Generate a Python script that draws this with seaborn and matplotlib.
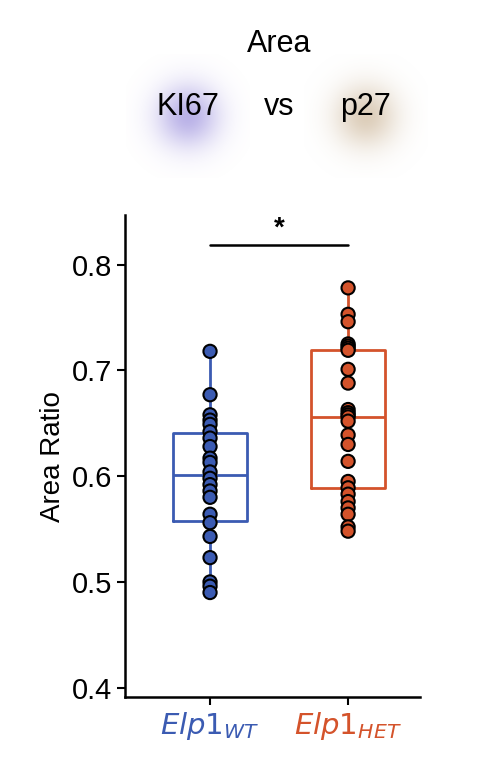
import numpy as np
import pandas as pd
import matplotlib
matplotlib.use("Agg")
import matplotlib.pyplot as plt
import seaborn as sns

groups = ["WT", "HET"]
wt_vals = [0.718, 0.677, 0.658, 0.653, 0.649, 0.642, 0.636, 0.628, 0.617, 0.613, 0.604,
           0.598, 0.592, 0.586, 0.580, 0.564, 0.556, 0.543, 0.523, 0.500, 0.496, 0.490]
het_vals = [0.778, 0.753, 0.746, 0.725, 0.723, 0.721, 0.719, 0.701, 0.688, 0.663, 0.660,
            0.658, 0.656, 0.652, 0.639, 0.630, 0.614, 0.595, 0.589, 0.583, 0.576,
            0.570, 0.564, 0.552, 0.548]
colors = ["#3b5bb2", "#d4532b"]
tick_labels = [r"$\mathit{Elp1}_{\mathit{WT}}$", r"$\mathit{Elp1}_{\mathit{HET}}$"]

df = pd.DataFrame({
    "group": ["WT"] * len(wt_vals) + ["HET"] * len(het_vals),
    "ratio": wt_vals + het_vals,
})

sns.set_style("ticks")
plt.rcParams["font.family"] = ["Liberation Sans", "DejaVu Sans"]
plt.rcParams["text.color"] = "black"
plt.rcParams["ytick.color"] = "black"

fig = plt.figure(figsize=(4.94, 7.73), dpi=100)
ax = fig.add_axes([0.253, 0.098, 0.597, 0.624])

sns.boxplot(data=df, x="group", y="ratio", order=groups, hue="group", palette=colors,
            fill=False, whis=(0, 100), width=0.54, linewidth=2, showfliers=False,
            showcaps=False, legend=False, ax=ax)
sns.stripplot(data=df, x="group", y="ratio", order=groups, hue="group", palette=colors,
              jitter=False, size=9.5, edgecolor="black", linewidth=1.5, legend=False, ax=ax)

ax.set_ylim(0.391, 0.847)
ax.set_xlim(-0.616, 1.52)
ax.set_yticks([0.4, 0.5, 0.6, 0.7, 0.8])
ax.set_yticklabels(["0.4", "0.5", "0.6", "0.7", "0.8"], fontsize=21, color="black")
ax.set_ylabel("Area Ratio", fontsize=20, color="black")
ax.set_xlabel("")
ax.set_xticks([0, 1])
ax.set_xticklabels(tick_labels, fontsize=21)
for lab, c in zip(ax.get_xticklabels(), colors):
    lab.set_color(c)
ax.tick_params(width=1.5, length=6, colors="black")
for lab, c in zip(ax.get_xticklabels(), colors):
    lab.set_color(c)
for s in ["left", "bottom"]:
    ax.spines[s].set_linewidth(1.8)
    ax.spines[s].set_color("black")
sns.despine(ax=ax)

# significance bar
ax.plot([0, 1], [0.819, 0.819], color="black", lw=1.8)
ax.text(0.5, 0.822, "*", ha="center", va="bottom", fontsize=20, fontweight="bold")

# blurred blobs behind header
yy, xx = np.mgrid[-1:1:120j, -1:1:120j]
g = np.exp(-(xx ** 2 + yy ** 2) / 0.25)
for cx, rgb in [(0.38, (0.55, 0.5, 0.85)), (0.74, (0.78, 0.68, 0.55))]:
    img = np.zeros((120, 120, 4))
    img[..., :3] = rgb
    img[..., 3] = g * 0.6
    bax = fig.add_axes([cx - 0.13, 0.77, 0.26, 0.16])
    bax.imshow(img)
    bax.axis("off")

fig.text(0.565, 0.943, "Area", ha="center", va="center", fontsize=22)
fig.text(0.38, 0.862, "KI67", ha="center", va="center", fontsize=22)
fig.text(0.565, 0.862, "vs", ha="center", va="center", fontsize=22)
fig.text(0.74, 0.862, "p27", ha="center", va="center", fontsize=22)

fig.savefig("out.png", dpi=100)
